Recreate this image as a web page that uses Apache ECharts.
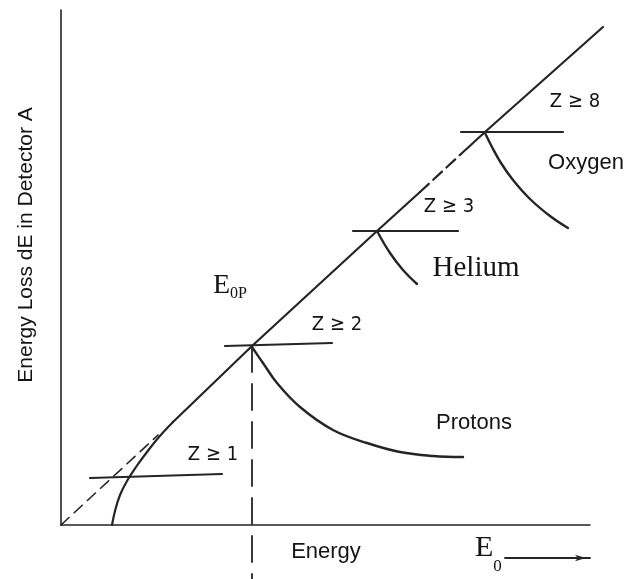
<!DOCTYPE html>
<html>
<head>
<meta charset="utf-8">
<script src="https://cdn.jsdelivr.net/npm/echarts@6/dist/echarts.min.js"></script>
<style>
  html, body { margin: 0; padding: 0; background: #fff; }
  #chart { width: 626px; height: 579px; }
</style>
</head>
<body>
<div id="chart"></div>
<script>
// schematic dE-E telescope plot, units are arbitrary
var energyAxis = [[0, 0], [529, 0]];
var extrapolation = [[0, 0], [97, 90]];
var protonRise = [[51, 0], [54, 14], [59, 30], [66, 44], [75, 58], [86, 73], [98, 88], [112, 103]];
var diagonalLow = [[112, 103], [191, 179], [316, 294], [359, 333]];
var diagonalGap = [[359, 333], [400, 371]];
var diagonalHigh = [[400, 371], [424, 393], [542, 498]];

var protonFall = [[191, 178], [202, 162], [216, 142], [239, 118], [272, 95], [306, 82], [339, 73], [372, 69], [402, 68]];
var heliumFall = [[316, 294], [329, 272], [342, 255], [356, 241]];
var oxygenFall = [[424, 392], [431, 378], [440, 362], [452, 345], [469, 326], [489, 309], [507, 297]];

var thresholds = [
  [[29, 47], [161, 51]],
  [[164, 179], [271, 182]],
  [[292, 294], [397, 294]],
  [[400, 393], [502, 393]]
];
var eopMarker = [[191, 179], [191, -54]];
var arrowE0 = [[444, -33], [529, -33]];

// [x, y, text, kind]
var labels = [
  [152, 70, 'Z ≥ 1', 'z'],
  [276, 200, 'Z ≥ 2', 'z'],
  [388, 318, 'Z ≥ 3', 'z'],
  [514, 423, 'Z ≥ 8', 'z'],
  [525, 362, 'Oxygen', 'sans'],
  [413, 102, 'Protons', 'sans'],
  [265, -27, 'Energy', 'sans'],
  [415, 257, 'Helium', 'serif'],
  [152, 238, '{e|E}{s|0P}', 'eop'],
  [414, -29, '{e|E}{s|0}', 'e0']
];

var ink = '#252525';
var textInk = '#141414';
var serif = '"Liberation Serif", "DejaVu Serif", serif';
var sans = '"Liberation Sans", Arial, sans-serif';
var narrow = '"Liberation Sans Narrow", "DejaVu Sans Condensed", sans-serif';

var labelStyles = {
  z: { fontFamily: narrow, fontSize: 20 },
  sans: { fontFamily: sans, fontSize: 22 },
  serif: { fontFamily: serif, fontSize: 29 },
  eop: {
    align: 'left',
    rich: {
      e: { fontFamily: serif, fontSize: 28, color: textInk, verticalAlign: 'bottom', padding: [0, 0, 2, 0] },
      s: { fontFamily: serif, fontSize: 16, color: textInk, verticalAlign: 'bottom' }
    }
  },
  e0: {
    align: 'left',
    rich: {
      e: { fontFamily: serif, fontSize: 30, color: textInk, verticalAlign: 'bottom', padding: [0, 0, 12, 0] },
      s: { fontFamily: serif, fontSize: 17, color: textInk, verticalAlign: 'bottom' }
    }
  }
};

function path(name, data, width, dash, smooth) {
  return {
    name: name,
    type: 'line',
    data: data,
    smooth: smooth || false,
    symbol: 'none',
    clip: false,
    silent: true,
    lineStyle: { color: ink, width: width, type: dash || 'solid', cap: 'round' }
  };
}

var series = [
  path('energyAxis', energyAxis, 1.6),
  path('extrapolation', extrapolation, 1.6, [11, 7]),
  path('protonRise', protonRise, 2.2, null, 0.4),
  path('diagonalLow', diagonalLow, 2.2),
  path('diagonalGap', diagonalGap, 2.2, [12, 6]),
  path('diagonalHigh', diagonalHigh, 2.2),
  path('protonFall', protonFall, 2.4, null, 0.4),
  path('heliumFall', heliumFall, 2.4, null, 0.4),
  path('oxygenFall', oxygenFall, 2.4, null, 0.4),
  path('eop', eopMarker, 1.8, [26, 12]),
  path('arrowShaft', arrowE0, 1.8)
];
thresholds.forEach(function (seg, i) {
  series.push(path('threshold' + i, seg, 2.2));
});

// arrow head at the end of the E0 shaft
series.push({
  name: 'arrowHead',
  type: 'scatter',
  clip: false,
  silent: true,
  symbol: 'arrow',
  symbolSize: [5, 11],
  symbolRotate: -90,
  symbolOffset: [-4, 0],
  itemStyle: { color: ink, opacity: 1 },
  data: [arrowE0[1]]
});

series.push({
  name: 'labels',
  type: 'scatter',
  symbolSize: 0,
  clip: false,
  silent: true,
  itemStyle: { opacity: 1 },
  data: labels.map(function (l) {
    return {
      value: [l[0], l[1]],
      label: Object.assign({
        show: true,
        position: 'inside',
        color: textInk,
        opacity: 1,
        formatter: l[2]
      }, labelStyles[l[3]])
    };
  })
});

var chart = echarts.init(document.getElementById('chart'));
chart.setOption({
  backgroundColor: '#fff',
  animation: false,
  grid: { left: 61, top: 10, width: 562, height: 515 },
  xAxis: {
    type: 'value', min: 0, max: 562,
    axisLine: { show: false },
    axisTick: { show: false }, axisLabel: { show: false }, splitLine: { show: false }
  },
  yAxis: {
    type: 'value', min: 0, max: 515,
    axisLine: { show: true, onZero: false, lineStyle: { color: ink, width: 1.6 } },
    axisTick: { show: false }, axisLabel: { show: false }, splitLine: { show: false }
  },
  graphic: [{
    type: 'text',
    x: 26, y: 245,
    rotation: Math.PI / 2,
    style: {
      text: 'Energy Loss dE in Detector A',
      fontFamily: sans, fontSize: 21, fill: textInk,
      align: 'center', verticalAlign: 'middle'
    }
  }],
  series: series
});
</script>
</body>
</html>
